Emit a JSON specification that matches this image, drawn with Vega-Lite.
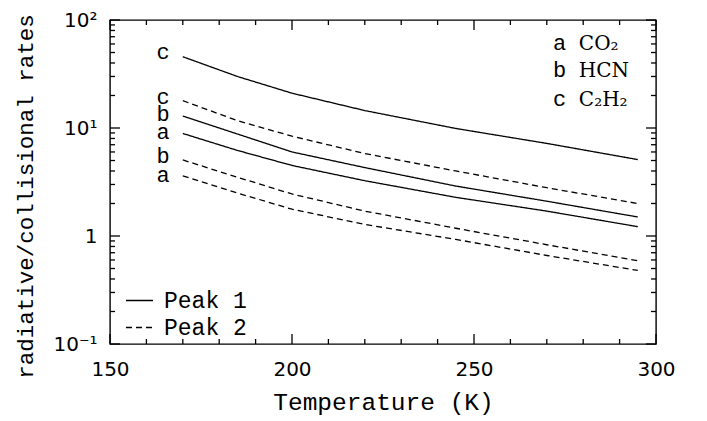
{
  "$schema": "https://vega.github.io/schema/vega-lite/v6.json",
  "width": 546,
  "height": 324,
  "autosize": {"type": "none"},
  "padding": {"left": 110, "top": 20, "right": 51, "bottom": 77},
  "background": "white",
  "config": {
    "font": "Liberation Mono",
    "view": {"stroke": "black", "strokeWidth": 1.4},
    "axis": {
      "grid": false,
      "domain": false,
      "ticks": false,
      "labelFont": "DejaVu Sans",
      "labelFontSize": 20,
      "labelColor": "black",
      "titleFont": "Liberation Mono",
      "titleFontSize": 24.5,
      "titleFontWeight": "normal",
      "titleColor": "black",
      "labelFlush": false,
      "labelOverlap": false
    },
    "legend": {
      "labelFont": "Liberation Mono",
      "labelFontSize": 23,
      "labelColor": "black"
    }
  },
  "datasets": {
    "curves": [
      {"T": 170, "rate": 45.7, "mol": "C2H2", "peak": "Peak 1"},
      {"T": 185, "rate": 30.0, "mol": "C2H2", "peak": "Peak 1"},
      {"T": 200, "rate": 21.0, "mol": "C2H2", "peak": "Peak 1"},
      {"T": 220, "rate": 14.5, "mol": "C2H2", "peak": "Peak 1"},
      {"T": 245, "rate": 9.9, "mol": "C2H2", "peak": "Peak 1"},
      {"T": 270, "rate": 7.2, "mol": "C2H2", "peak": "Peak 1"},
      {"T": 295, "rate": 5.1, "mol": "C2H2", "peak": "Peak 1"},
      {"T": 170, "rate": 17.9, "mol": "C2H2", "peak": "Peak 2"},
      {"T": 185, "rate": 11.7, "mol": "C2H2", "peak": "Peak 2"},
      {"T": 200, "rate": 8.4, "mol": "C2H2", "peak": "Peak 2"},
      {"T": 220, "rate": 5.8, "mol": "C2H2", "peak": "Peak 2"},
      {"T": 245, "rate": 4.0, "mol": "C2H2", "peak": "Peak 2"},
      {"T": 270, "rate": 2.8, "mol": "C2H2", "peak": "Peak 2"},
      {"T": 295, "rate": 2.0, "mol": "C2H2", "peak": "Peak 2"},
      {"T": 170, "rate": 12.9, "mol": "HCN", "peak": "Peak 1"},
      {"T": 185, "rate": 8.8, "mol": "HCN", "peak": "Peak 1"},
      {"T": 200, "rate": 6.0, "mol": "HCN", "peak": "Peak 1"},
      {"T": 220, "rate": 4.3, "mol": "HCN", "peak": "Peak 1"},
      {"T": 245, "rate": 2.9, "mol": "HCN", "peak": "Peak 1"},
      {"T": 270, "rate": 2.1, "mol": "HCN", "peak": "Peak 1"},
      {"T": 295, "rate": 1.5, "mol": "HCN", "peak": "Peak 1"},
      {"T": 170, "rate": 8.9, "mol": "CO2", "peak": "Peak 1"},
      {"T": 185, "rate": 6.2, "mol": "CO2", "peak": "Peak 1"},
      {"T": 200, "rate": 4.5, "mol": "CO2", "peak": "Peak 1"},
      {"T": 220, "rate": 3.25, "mol": "CO2", "peak": "Peak 1"},
      {"T": 245, "rate": 2.28, "mol": "CO2", "peak": "Peak 1"},
      {"T": 270, "rate": 1.7, "mol": "CO2", "peak": "Peak 1"},
      {"T": 295, "rate": 1.22, "mol": "CO2", "peak": "Peak 1"},
      {"T": 170, "rate": 5.06, "mol": "HCN", "peak": "Peak 2"},
      {"T": 185, "rate": 3.5, "mol": "HCN", "peak": "Peak 2"},
      {"T": 200, "rate": 2.45, "mol": "HCN", "peak": "Peak 2"},
      {"T": 220, "rate": 1.7, "mol": "HCN", "peak": "Peak 2"},
      {"T": 245, "rate": 1.18, "mol": "HCN", "peak": "Peak 2"},
      {"T": 270, "rate": 0.83, "mol": "HCN", "peak": "Peak 2"},
      {"T": 295, "rate": 0.59, "mol": "HCN", "peak": "Peak 2"},
      {"T": 170, "rate": 3.6, "mol": "CO2", "peak": "Peak 2"},
      {"T": 185, "rate": 2.5, "mol": "CO2", "peak": "Peak 2"},
      {"T": 200, "rate": 1.77, "mol": "CO2", "peak": "Peak 2"},
      {"T": 220, "rate": 1.28, "mol": "CO2", "peak": "Peak 2"},
      {"T": 245, "rate": 0.93, "mol": "CO2", "peak": "Peak 2"},
      {"T": 270, "rate": 0.66, "mol": "CO2", "peak": "Peak 2"},
      {"T": 295, "rate": 0.48, "mol": "CO2", "peak": "Peak 2"}
    ],
    "curveLabels": [
      {"T": 164.6, "rate": 43.5, "label": "c"},
      {"T": 164.6, "rate": 16.7, "label": "c"},
      {"T": 164.6, "rate": 11.6, "label": "b"},
      {"T": 164.6, "rate": 7.9, "label": "a"},
      {"T": 164.6, "rate": 4.74, "label": "b"},
      {"T": 164.6, "rate": 3.16, "label": "a"}
    ],
    "keyLetters": [
      {"T": 271.7, "rate": 52.8, "label": "a"},
      {"T": 271.7, "rate": 29.7, "label": "b"},
      {"T": 271.7, "rate": 16.0, "label": "c"}
    ],
    "keyNames": [
      {"T": 278.8, "rate": 52.8, "label": "CO₂"},
      {"T": 278.8, "rate": 29.7, "label": "HCN"},
      {"T": 278.8, "rate": 16.0, "label": "C₂H₂"}
    ],
    "xMajor": [{"T": 150}, {"T": 200}, {"T": 250}, {"T": 300}],
    "xMinor": [{"T": 160}, {"T": 170}, {"T": 180}, {"T": 190}, {"T": 210}, {"T": 220}, {"T": 230}, {"T": 240}, {"T": 260}, {"T": 270}, {"T": 280}, {"T": 290}],
    "yMajor": [{"rate": 0.1}, {"rate": 1}, {"rate": 10}, {"rate": 100}],
    "yMinor": [{"rate": 0.2}, {"rate": 0.3}, {"rate": 0.4}, {"rate": 0.5}, {"rate": 0.6}, {"rate": 0.7}, {"rate": 0.8}, {"rate": 0.9}, {"rate": 2}, {"rate": 3}, {"rate": 4}, {"rate": 5}, {"rate": 6}, {"rate": 7}, {"rate": 8}, {"rate": 9}, {"rate": 20}, {"rate": 30}, {"rate": 40}, {"rate": 50}, {"rate": 60}, {"rate": 70}, {"rate": 80}, {"rate": 90}]
  },
  "layer": [
    {
      "data": {"name": "curves"},
      "mark": {"type": "line", "color": "black", "strokeWidth": 1.3},
      "encoding": {
        "x": {
          "field": "T", "type": "quantitative",
          "scale": {"domain": [150, 300], "nice": false, "zero": false},
          "axis": {"orient": "bottom", "values": [150, 200, 250, 300], "labelPadding": 15, "title": "Temperature (K)", "titlePadding": 11}
        },
        "y": {
          "field": "rate", "type": "quantitative",
          "scale": {"type": "log", "domain": [0.1, 100], "nice": false},
          "axis": {"orient": "left", "values": [0.1, 1, 10, 100], "labelPadding": 13,
            "labelExpr": "datum.value >= 50 ? '10²' : datum.value >= 5 ? '10¹' : datum.value >= 0.5 ? '1' : '10⁻¹'",
            "title": "radiative/collisional rates", "titleFontSize": 22.5, "titlePadding": 15, "titleY": 176}
        },
        "detail": {"field": "mol"},
        "strokeDash": {
          "field": "peak", "type": "nominal",
          "scale": {"domain": ["Peak 1", "Peak 2"], "range": [[1, 0], [6, 4]]},
          "legend": {"orient": "none", "legendX": 15, "legendY": 266, "title": null, "symbolType": "stroke", "symbolSize": 729, "symbolStrokeColor": "black", "symbolStrokeWidth": 1.3, "labelOffset": 10, "rowPadding": -8, "padding": 0}
        }
      }
    },
    {
      "data": {"name": "curveLabels"},
      "mark": {"type": "text", "fontSize": 22, "color": "black", "align": "center", "baseline": "alphabetic", "font": "Liberation Mono"},
      "encoding": {
        "x": {"field": "T", "type": "quantitative"},
        "y": {"field": "rate", "type": "quantitative"},
        "text": {"field": "label"}
      }
    },
    {
      "data": {"name": "keyLetters"},
      "mark": {"type": "text", "fontSize": 22, "color": "black", "align": "left", "baseline": "alphabetic", "font": "Liberation Mono"},
      "encoding": {
        "x": {"field": "T", "type": "quantitative"},
        "y": {"field": "rate", "type": "quantitative"},
        "text": {"field": "label"}
      }
    },
    {
      "data": {"name": "keyNames"},
      "mark": {"type": "text", "fontSize": 20, "color": "black", "align": "left", "baseline": "alphabetic", "font": "DejaVu Serif"},
      "encoding": {
        "x": {"field": "T", "type": "quantitative"},
        "y": {"field": "rate", "type": "quantitative"},
        "text": {"field": "label"}
      }
    },
    {
      "data": {"name": "xMajor"},
      "mark": {"type": "point", "shape": "stroke", "angle": 90, "size": 100, "strokeWidth": 1.3, "color": "black", "filled": false, "opacity": 1, "yOffset": -5},
      "encoding": {"x": {"field": "T", "type": "quantitative"}, "y": {"datum": 0.1}}
    },
    {
      "data": {"name": "xMinor"},
      "mark": {"type": "point", "shape": "stroke", "angle": 90, "size": 25, "strokeWidth": 1.3, "color": "black", "filled": false, "opacity": 1, "yOffset": -2.5},
      "encoding": {"x": {"field": "T", "type": "quantitative"}, "y": {"datum": 0.1}}
    },
    {
      "data": {"name": "xMajor"},
      "mark": {"type": "point", "shape": "stroke", "angle": 90, "size": 100, "strokeWidth": 1.3, "color": "black", "filled": false, "opacity": 1, "yOffset": 5},
      "encoding": {"x": {"field": "T", "type": "quantitative"}, "y": {"datum": 100}}
    },
    {
      "data": {"name": "xMinor"},
      "mark": {"type": "point", "shape": "stroke", "angle": 90, "size": 25, "strokeWidth": 1.3, "color": "black", "filled": false, "opacity": 1, "yOffset": 2.5},
      "encoding": {"x": {"field": "T", "type": "quantitative"}, "y": {"datum": 100}}
    },
    {
      "data": {"name": "yMajor"},
      "mark": {"type": "point", "shape": "stroke", "size": 100, "strokeWidth": 1.3, "color": "black", "filled": false, "opacity": 1, "xOffset": 5},
      "encoding": {"y": {"field": "rate", "type": "quantitative"}, "x": {"datum": 150}}
    },
    {
      "data": {"name": "yMinor"},
      "mark": {"type": "point", "shape": "stroke", "size": 25, "strokeWidth": 1.3, "color": "black", "filled": false, "opacity": 1, "xOffset": 2.5},
      "encoding": {"y": {"field": "rate", "type": "quantitative"}, "x": {"datum": 150}}
    },
    {
      "data": {"name": "yMajor"},
      "mark": {"type": "point", "shape": "stroke", "size": 100, "strokeWidth": 1.3, "color": "black", "filled": false, "opacity": 1, "xOffset": -5},
      "encoding": {"y": {"field": "rate", "type": "quantitative"}, "x": {"datum": 300}}
    },
    {
      "data": {"name": "yMinor"},
      "mark": {"type": "point", "shape": "stroke", "size": 25, "strokeWidth": 1.3, "color": "black", "filled": false, "opacity": 1, "xOffset": -2.5},
      "encoding": {"y": {"field": "rate", "type": "quantitative"}, "x": {"datum": 300}}
    }
  ]
}
